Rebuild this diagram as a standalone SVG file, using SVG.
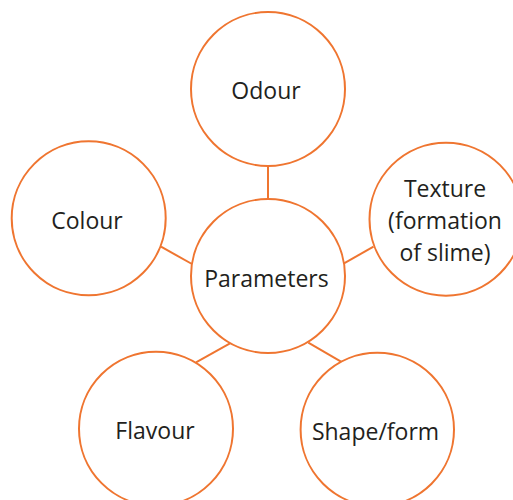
<svg xmlns="http://www.w3.org/2000/svg" width="513" height="500" viewBox="0 0 513 500">
<style>
.c{fill:#fff;stroke:#EF7530;stroke-width:2}
.l{stroke:#EF7530;stroke-width:2;fill:none}
text{font-family:"Open Sans","Noto Sans",sans-serif;font-size:23px;fill:#231F20;text-anchor:middle}
</style>
<rect width="513" height="500" fill="#fff"/>
<g id="connectors">
<line class="l" x1="268" y1="166" x2="268" y2="200"/>
<line class="l" x1="161" y1="246.7" x2="192" y2="264"/>
<line class="l" x1="344" y1="263.3" x2="373.5" y2="246.7"/>
<line class="l" x1="196" y1="362.3" x2="230" y2="343.3"/>
<line class="l" x1="308.3" y1="342.7" x2="341" y2="361.7"/>
</g>
<g id="odour"><circle class="c" cx="268" cy="89" r="77"/><text x="266" y="99">Odour</text></g>
<g id="colour"><circle class="c" cx="88.7" cy="218.3" r="77"/><text x="87" y="229">Colour</text></g>
<g id="texture"><circle class="c" cx="446" cy="219.2" r="76.5"/><text x="445" y="196.5">Texture</text><text x="445" y="229">(formation</text><text x="445" y="261">of slime)</text></g>
<g id="parameters"><circle class="c" cx="268" cy="276" r="77"/><text x="266.5" y="287">Parameters</text></g>
<g id="flavour"><circle class="c" cx="156" cy="428.7" r="77"/><text x="155" y="439">Flavour</text></g>
<g id="shapeform"><circle class="c" cx="377.3" cy="429.5" r="76.7"/><text x="375.5" y="440">Shape/form</text></g>
</svg>
